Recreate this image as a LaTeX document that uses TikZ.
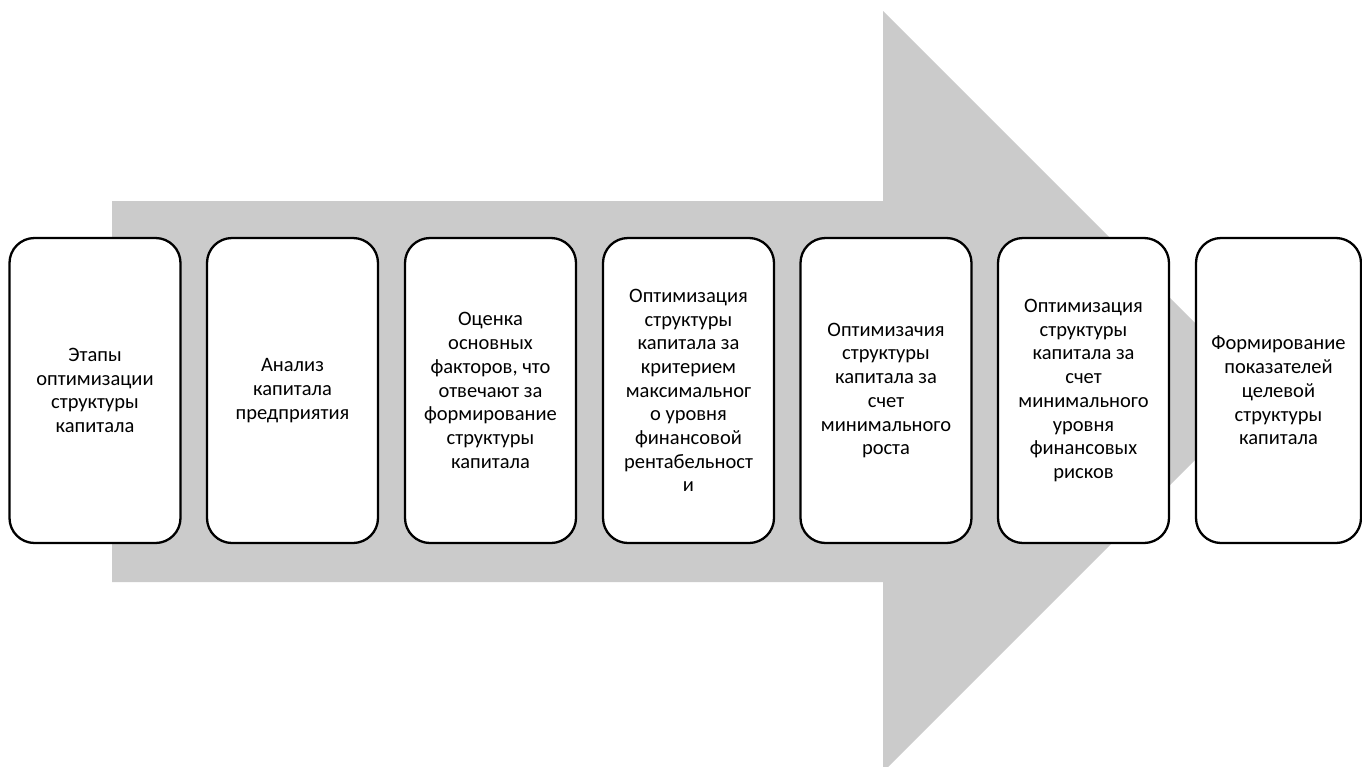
\documentclass[tikz,border=0pt]{standalone}
\usepackage{fontspec}
\setmainfont{Carlito}
\definecolor{arrowgray}{HTML}{CBCBCB}
\tikzset{
  stagebox/.style={draw=black, line width=2.3pt, fill=white, rectangle,
    rounded corners=25pt, minimum width=171pt, minimum height=305pt,
    inner sep=0pt, align=center,
    font=\fontsize{20.5}{23.7}\selectfont},
  bigarrow/.style={fill=arrowgray, draw=none}
}
\begin{document}
\begin{tikzpicture}[x=1pt,y=-1pt]
\useasboundingbox (0,0) rectangle (1362,766);
\begin{scope}
\clip (0,0) rectangle (1362,766);
\fill[bigarrow] (112,201) -- (883,201) -- (883,11) -- (1263.5,391.5) -- (883,772) -- (883,582) -- (112,582) -- cycle;
\end{scope}
\node[stagebox] (s1) at (95,390.5) {Этапы\\оптимизации\\структуры\\капитала};
\node[stagebox] (s2) at (292.5,390.5) {Анализ\\капитала\\предприятия};
\node[stagebox] (s3) at (490.5,390.5) {Оценка\\основных\\факторов, что\\отвечают за\\формирование\\структуры\\капитала};
\node[stagebox] (s4) at (688.5,390.5) {Оптимизация\\структуры\\капитала за\\критерием\\максимальног\\о уровня\\финансовой\\рентабельност\\и};
\node[stagebox] (s5) at (886,390.5) {Оптимизачия\\структуры\\капитала за\\счет\\минимального\\роста};
\node[stagebox] (s6) at (1083.5,390.5) {Оптимизация\\структуры\\капитала за\\счет\\минимального\\уровня\\финансовых\\рисков};
\node[stagebox, minimum width=165pt] (s7) at (1278.5,390.5) {Формирование\\показателей\\целевой\\структуры\\капитала};
\end{tikzpicture}
\end{document}
